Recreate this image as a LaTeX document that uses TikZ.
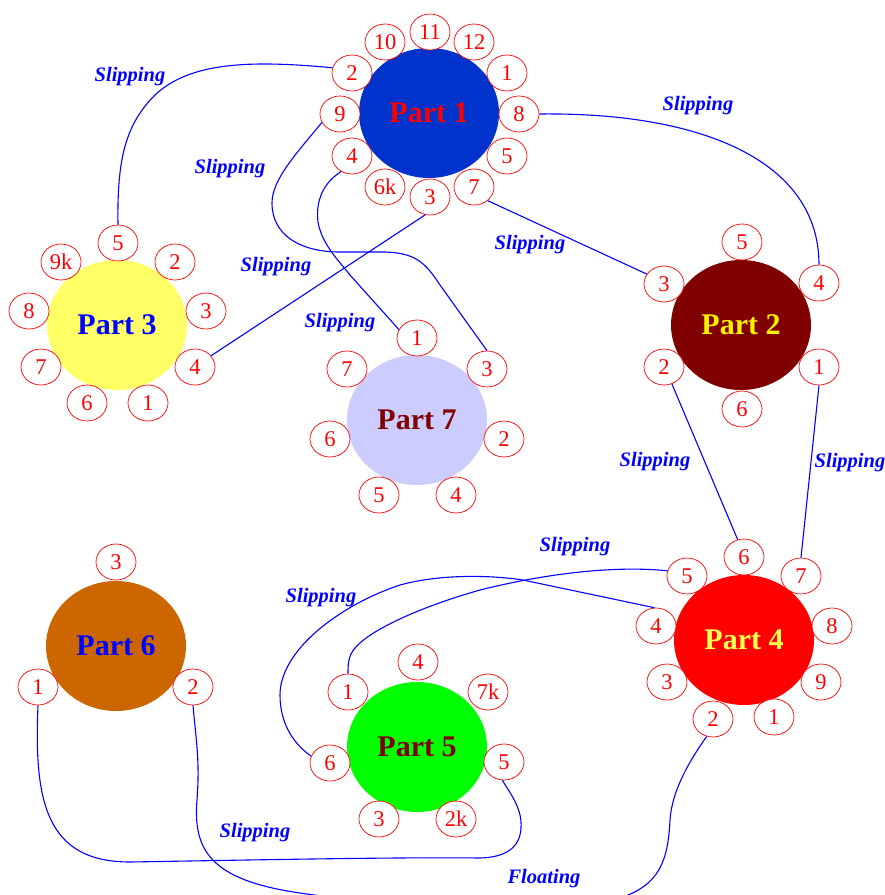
\documentclass[tikz,border=0pt]{standalone}
\usepackage{fontspec}
\setmainfont{Liberation Serif}
\usetikzlibrary{shapes.geometric}
\definecolor{pblue}{RGB}{0,51,204}
\definecolor{pmaroon}{RGB}{128,0,0}
\definecolor{pyellow}{RGB}{255,255,102}
\definecolor{plav}{RGB}{204,204,255}
\definecolor{porange}{RGB}{204,102,0}
\definecolor{pgreen}{RGB}{0,255,0}
\definecolor{ptxtyel}{RGB}{255,255,80}
\definecolor{edgeblue}{RGB}{0,0,255}
\begin{document}
\begin{tikzpicture}[x=1pt,y=-1pt,
  part/.style={ellipse, minimum width=140, minimum height=130, inner sep=0pt,
    font=\fontsize{30}{32}\selectfont\bfseries},
  port/.style={ellipse, draw=red, fill=white, minimum width=40, minimum height=36,
    inner sep=0pt, text=red, font=\fontsize{22.5}{24}\selectfont, line width=0.7pt},
  edge/.style={draw=edgeblue, line width=1.1pt},
  lbl/.style={text=edgeblue, font=\fontsize{20.5}{22}\selectfont\bfseries\itshape, inner sep=0pt}]
\useasboundingbox (0,0) rectangle (885,895);
\clip (0,0) rectangle (885,895);
% parts
\node[part, fill=pblue, text=red] (P1) at (429,113) {Part 1};
\node[part, fill=pmaroon, text=yellow] (P2) at (741,325) {Part 2};
\node[part, fill=pyellow, text=blue] (P3) at (117,325) {Part 3};
\node[part, fill=red, text=ptxtyel] (P4) at (744,640) {Part 4};
\node[part, fill=pgreen, text=pmaroon] (P5) at (417,747) {Part 5};
\node[part, fill=porange, text=blue] (P6) at (116,646) {Part 6};
\node[part, fill=plav, text=pmaroon] (P7) at (417,420) {Part 7};
% ports of Part 1
\node[port] (p1x10) at (385,42) {10};
\node[port] (p1x11) at (430,32) {11};
\node[port] (p1x12) at (474,42) {12};
\node[port] (p1x1) at (507,73) {1};
\node[port] (p1x8) at (519,114) {8};
\node[port] (p1x5) at (507,156) {5};
\node[port] (p1x7) at (474,187) {7};
\node[port] (p1x3) at (430,197) {3};
\node[port] (p1x6) at (385,187) {6k};
\node[port] (p1x4) at (352,156) {4};
\node[port] (p1x9) at (340,114) {9};
\node[port] (p1x2) at (352,73) {2};
% ports of Part 3
\node[port] (p3x5) at (118,243) {5};
\node[port] (p3x2) at (175,262) {2};
\node[port] (p3x3) at (206,311) {3};
\node[port] (p3x4) at (195,367) {4};
\node[port] (p3x1) at (148,403) {1};
\node[port] (p3x6) at (87,403) {6};
\node[port] (p3x7) at (41,367) {7};
\node[port] (p3x8) at (29,311) {8};
\node[port] (p3x9) at (61,262) {9k};
% ports of Part 2
\node[port] (p2x5) at (742,242) {5};
\node[port] (p2x4) at (819,283) {4};
\node[port] (p2x1) at (819,367) {1};
\node[port] (p2x6) at (742,409) {6};
\node[port] (p2x2) at (664,367) {2};
\node[port] (p2x3) at (664,284) {3};
% ports of Part 7
\node[port] (p7x1) at (417,338) {1};
\node[port] (p7x3) at (487,369) {3};
\node[port] (p7x2) at (504,439) {2};
\node[port] (p7x4) at (456,495) {4};
\node[port] (p7x5) at (379,495) {5};
\node[port] (p7x6) at (330,439) {6};
\node[port] (p7x7) at (347,369) {7};
% ports of Part 4
\node[port] (p4x6) at (744,557) {6};
\node[port] (p4x7) at (801,576) {7};
\node[port] (p4x8) at (832,626) {8};
\node[port] (p4x9) at (821,682) {9};
\node[port] (p4x1) at (774,717) {1};
\node[port] (p4x2) at (713,719) {2};
\node[port] (p4x3) at (667,682) {3};
\node[port] (p4x4) at (656,626) {4};
\node[port] (p4x5) at (687,576) {5};
% ports of Part 5
\node[port] (p5x4) at (418,662) {4};
\node[port] (p5x7) at (488,692) {7k};
\node[port] (p5x5) at (504,762) {5};
\node[port] (p5x2) at (456,819) {2k};
\node[port] (p5x3) at (379,819) {3};
\node[port] (p5x6) at (330,763) {6};
\node[port] (p5x1) at (348,692) {1};
% ports of Part 6
\node[port] (p6x3) at (116,562) {3};
\node[port] (p6x1) at (38,687) {1};
\node[port] (p6x2) at (193,687) {2};
% edges
\draw[edge] (p1x2.165) .. controls (250,60) and (190,62) .. (155,95)
  .. controls (125,125) and (117,160) .. (p3x5.north);
\draw[edge] (p1x9.205) .. controls (295,155) and (272,180) .. (272,203)
  .. controls (272,235) and (300,252) .. (340,252) -- (385,252)
  .. controls (415,253) and (425,262) .. (440,285) -- (p7x3.north);
\draw[edge] (p1x4.235) .. controls (320,185) and (316,205) .. (318,222)
  .. controls (322,245) and (340,262) .. (350,275) -- (p7x1.155);
\draw[edge] (p1x3.255) -- (p3x4.35);
\draw[edge] (p1x8.east) .. controls (700,112) and (819,160) .. (p2x4.north);
\draw[edge] (p1x7.315) -- (p2x3.150);
\draw[edge] (p2x2.295) -- (p4x6.110);
\draw[edge] (p2x1.south) -- (p4x7.north);
\draw[edge] (p4x5.165) .. controls (610,565) and (540,575) .. (480,590)
  .. controls (420,607) and (370,630) .. (355,648)
  .. controls (348,656) and (348,665) .. (p5x1.north);
\draw[edge] (p4x4.95) -- (523,580) .. controls (490,575) and (440,574) .. (400,585)
  .. controls (340,605) and (280,650) .. (280,695)
  .. controls (280,725) and (295,745) .. (p5x6.160);
\draw[edge] (p6x1.south) .. controls (34,800) and (45,862) .. (130,862)
  .. controls (250,860) and (400,857) .. (480,858)
  .. controls (515,857) and (522,840) .. (521,822)
  .. controls (520,805) and (508,790) .. (p5x5.265);
\draw[edge] (p6x2.south) .. controls (196,740) and (200,760) .. (197,800)
  .. controls (193,850) and (210,880) .. (300,893)
  .. controls (400,908) and (560,910) .. (620,898)
  .. controls (660,885) and (668,860) .. (670,820)
  .. controls (672,790) and (690,760) .. (p4x2.250);
% labels
\node[lbl] (l1) at (130,77) {Slipping};
\node[lbl] (l2) at (230,169) {Slipping};
\node[lbl] (l3) at (276,267) {Slipping};
\node[lbl] (l4) at (340,323) {Slipping};
\node[lbl] (l5) at (530,245) {Slipping};
\node[lbl] (l6) at (698,106) {Slipping};
\node[lbl] (l7) at (655,462) {Slipping};
\node[lbl] (l8) at (850,463) {Slipping};
\node[lbl] (l9) at (575,547) {Slipping};
\node[lbl] (l10) at (321,598) {Slipping};
\node[lbl] (l11) at (255,833) {Slipping};
\node[lbl] (l12) at (544,879) {Floating};
\end{tikzpicture}
\end{document}
